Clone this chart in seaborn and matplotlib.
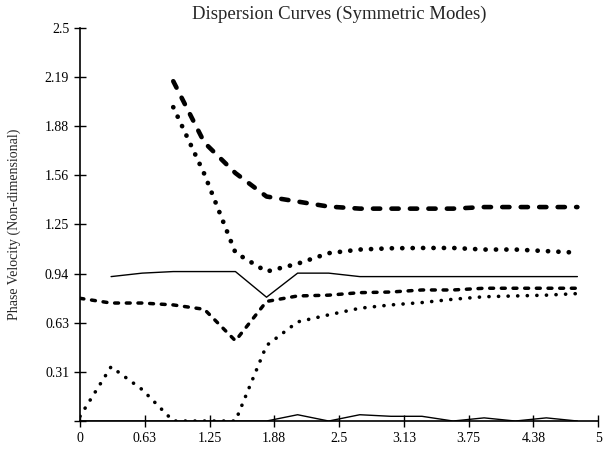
import numpy as np
import pandas as pd
import seaborn as sns
import matplotlib
matplotlib.use("Agg")
import matplotlib.pyplot as plt

# frequency samples (non-dimensional)
freq = [0.0, 0.3, 0.6, 0.9, 1.2, 1.5, 1.8, 2.1, 2.4, 2.7, 3.0, 3.3, 3.6, 3.9, 4.2, 4.5, 4.8]

# mode curves (nan = mode not present)
s0_low = [0, 0, 0, 0, 0, 0, 0, 0.04, 0, 0.04, 0.03, 0.03, 0, 0.02, 0, 0.02, 0]
s_dot_low = [0.03, 0.345, 0.20, 0, 0, 0, 0.48, 0.63, 0.675, 0.717, 0.738, 0.753, 0.774, 0.79, 0.795, 0.80, 0.81]
s_dash_mid = [0.78, 0.75, 0.75, 0.738, 0.71, 0.51, 0.76, 0.795, 0.80, 0.816, 0.82, 0.833, 0.833, 0.844, 0.844, 0.844, 0.844]
s_solid_mid = [np.nan, 0.918, 0.94, 0.95, 0.95, 0.95, 0.787, 0.94, 0.94, 0.918, 0.918, 0.918, 0.918, 0.918, 0.918, 0.918, 0.918]
s_dot_up = [np.nan, np.nan, np.nan, 1.995, 1.57, 1.07, 0.95, 1.0, 1.067, 1.09, 1.098, 1.10, 1.10, 1.09, 1.09, 1.08, 1.07]
s_dash_up = [np.nan, np.nan, np.nan, 2.16, 1.77, 1.576, 1.427, 1.395, 1.363, 1.35, 1.35, 1.35, 1.35, 1.36, 1.36, 1.36, 1.36]

yticks = [0, 0.3125, 0.625, 0.9375, 1.25, 1.5625, 1.875, 2.1875, 2.5]
ylabels = ["", "0.31", "0.63", "0.94", "1.25", "1.56", "1.88", "2.19", "2.5"]
xticks = [0, 0.625, 1.25, 1.875, 2.5, 3.125, 3.75, 4.375, 5]
xlabels = ["0", "0.63", "1.25", "1.88", "2.5", "3.13", "3.75", "4.38", "5"]

sns.set_style("ticks")
plt.rcParams['font.family'] = ['Liberation Serif', 'DejaVu Serif']
plt.rcParams['lines.scale_dashes'] = False

fig = plt.figure(figsize=(6.06, 4.5), dpi=100)
ax = fig.add_axes([0.132, 0.0644, 0.855, 0.874])

def draw(y, **kw):
    d = pd.DataFrame({"f": freq, "v": y}).dropna()
    sns.lineplot(data=d, x="f", y="v", ax=ax, color="black", **kw)

# dash patterns in points (1pt = 1.39px here)
draw(s0_low, linewidth=1)
draw(s_solid_mid, linewidth=1)
draw(s_dot_low, linewidth=2.6, linestyle=(0, (0.1, 6.8)), dash_capstyle="round")
draw(s_dash_mid, linewidth=2.5, linestyle=(0, (2.8, 5.6)), dash_capstyle="round")
draw(s_dot_up, linewidth=3.4, linestyle=(0, (0.1, 7.4)), dash_capstyle="round")
draw(s_dash_up, linewidth=3.3, linestyle=(0, (5.2, 8.1)), dash_capstyle="round")

ax.set_xlim(0, 5)
ax.set_ylim(0, 2.5)
ax.set_yticks(yticks)
ax.set_yticklabels(ylabels)
ax.set_xticks(xticks)
ax.set_xticklabels(xlabels)
ax.tick_params(direction="inout", length=8.5, width=1, labelsize=10, colors="black")
ax.set_xlabel("")
ax.set_ylabel("Phase Velocity (Non-dimensional)", fontsize=10, labelpad=17)
ax.set_title("Dispersion Curves (Symmetric Modes)", fontsize=13.5, pad=6)
sns.despine(ax=ax)
for s in ["left", "bottom"]:
    ax.spines[s].set_linewidth(1.2)
    ax.spines[s].set_color("black")

fig.savefig("out.png", dpi=100)
